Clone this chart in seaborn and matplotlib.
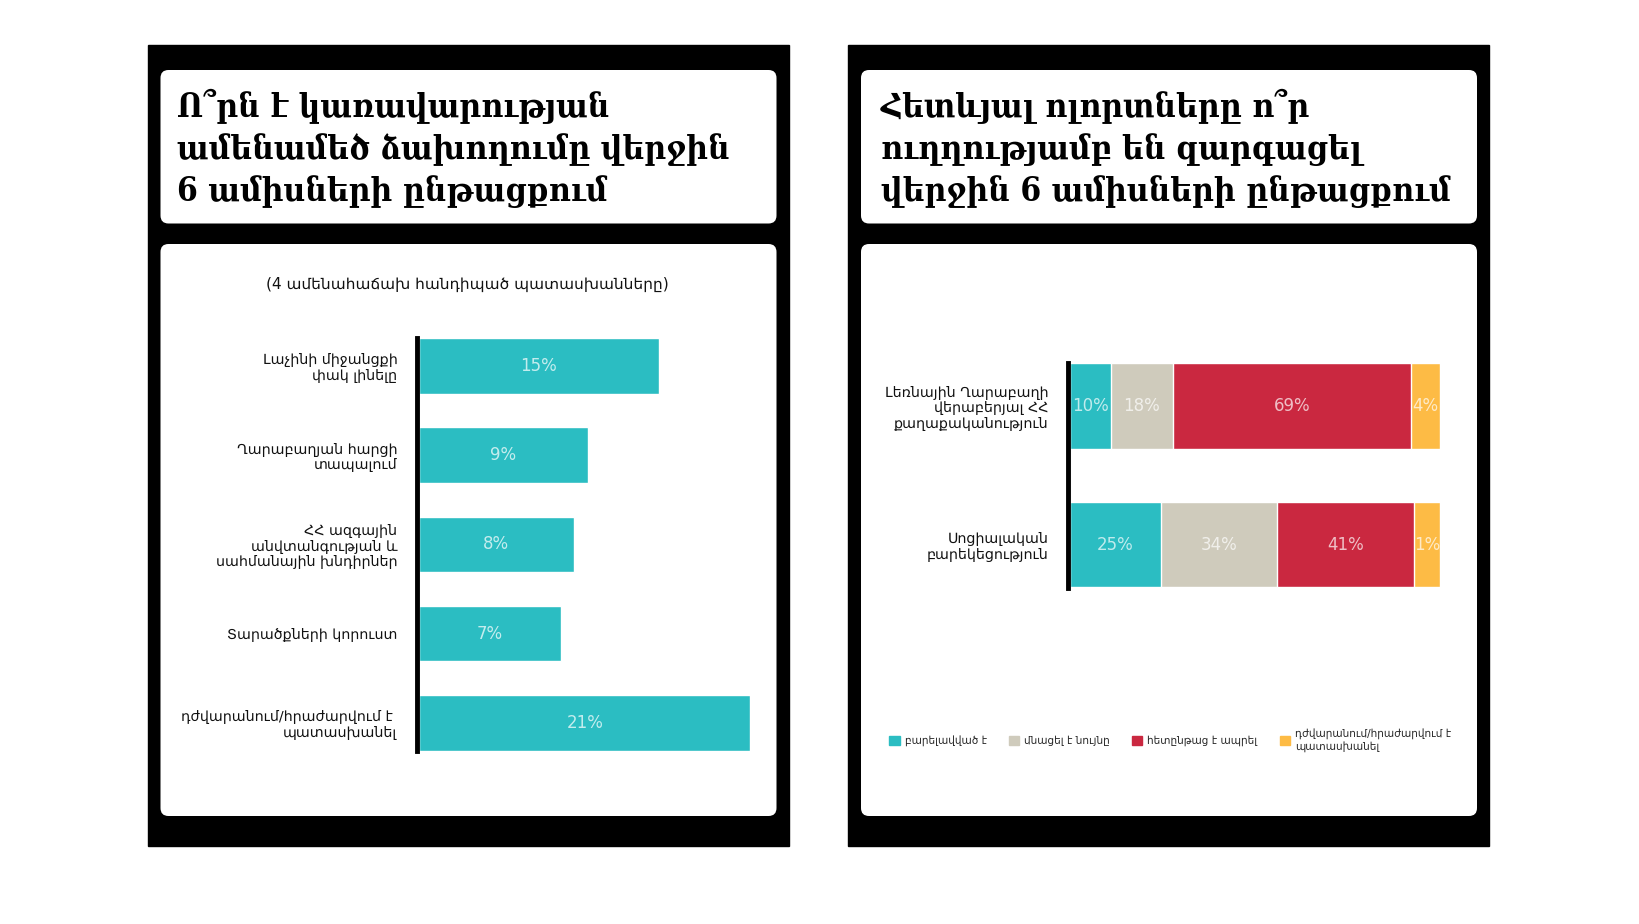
import matplotlib
matplotlib.use("Agg")
import matplotlib.pyplot as plt
from matplotlib.patches import Rectangle, FancyBboxPatch, Patch
import numpy as np
import seaborn as sns

# left panel: most frequent answers
left_title = "Ո՞րն է կառավարության\nամենամեծ ձախողումը վերջին\n6 ամիսների ընթացքում"
left_subtitle = "(4 ամենահաճախ հանդիպած պատասխանները)"
left_categories = [
    "Լաչինի միջանցքի\nփակ լինելը",
    "Ղարաբաղյան հարցի\nտապալում",
    "ՀՀ ազգային\nանվտանգության և\nսահմանային խնդիրներ",
    "Տարածքների կորուստ",
    "դժվարանում/հրաժարվում է \nպատասխանել",
]
left_values = [15.2, 10.7, 9.8, 9.0, 21.0]
left_labels = ["15%", "9%", "8%", "7%", "21%"]

# right panel: stacked shares
right_title = "Հետևյալ ոլորտները ո՞ր\nուղղությամբ են զարգացել\nվերջին 6 ամիսների ընթացքում"
right_categories = [
    "Լեռնային Ղարաբաղի\nվերաբերյալ ՀՀ\nքաղաքականություն",
    "Սոցիալական\nբարեկեցություն",
]
series_names = [
    "բարելավված է",
    "մնացել է նույնը",
    "հետընթաց է ապրել",
    "դժվարանում/հրաժարվում է\nպատասխանել",
]
improved = [11.0, 24.5]
same = [16.9, 31.3]
worse = [64.2, 37.2]
no_answer = [7.9, 7.0]
improved_labels = ["10%", "25%"]
same_labels = ["18%", "34%"]
worse_labels = ["69%", "41%"]
no_answer_labels = ["4%", "1%"]

TEAL = "#2bbdc2"
BEIGE = "#cfcbbc"
RED = "#ca2840"
YELLOW = "#fdbb45"
series_colors = [TEAL, BEIGE, RED, YELLOW]

W, H = 1640, 924

sns.set_theme(style="white")
plt.rcParams["font.family"] = ["DejaVu Sans"]

fig = plt.figure(figsize=(W / 100, H / 100), dpi=100)
fig.patch.set_facecolor("white")


def px_axes(x0, y0, x1, y1, **kw):
    return fig.add_axes([x0 / W, 1 - y1 / H, (x1 - x0) / W, (y1 - y0) / H], **kw)


# background: black frames and white rounded cards
bg = px_axes(0, 0, W, H, zorder=-5)
bg.set_xlim(0, W)
bg.set_ylim(H, 0)
bg.axis("off")
for px in (148, 848.5):
    bg.add_patch(Rectangle((px, 45), 641, 800.5, color="black"))
    bg.add_patch(FancyBboxPatch((px + 12.5, 70), 616, 153.5,
                                boxstyle="round,pad=0,rounding_size=8",
                                fc="white", ec="none"))
    bg.add_patch(FancyBboxPatch((px + 12.5, 244), 616, 572,
                                boxstyle="round,pad=0,rounding_size=8",
                                fc="white", ec="none"))

title_kw = dict(fontsize=24, fontweight="bold", family="DejaVu Serif",
                fontstretch="condensed", va="center", ha="left",
                linespacing=1.35, color="black")
bg.text(177.5, 148.5, left_title, **title_kw)
bg.text(881, 148.5, right_title, **title_kw)
bg.text(467.5, 284, left_subtitle, ha="center", va="center", fontsize=11.1, color="#111111")

# ---- left bar chart
ax1 = px_axes(419, 338.2, 750.5, 750.5)
sns.barplot(x=left_values, y=left_categories, color=TEAL, width=0.62,
            saturation=1, orient="h", ax=ax1)
ax1.set_xlim(0, max(left_values))
ax1.set_ylim(len(left_values) - 1 + 0.31, -0.31)
for i, (v, lab) in enumerate(zip(left_values, left_labels)):
    ax1.text(v / 2, i, lab, ha="center", va="center", color="white",
             alpha=0.72, fontsize=12)

# ---- right stacked chart (layered cumulative bars)
ax2 = px_axes(1069.8, 363.2, 1440.4, 587.7)
series = [improved, same, worse, no_answer]
series_labels = [improved_labels, same_labels, worse_labels, no_answer_labels]
cum = np.cumsum(np.array(series), axis=0)
for k in range(len(series) - 1, -1, -1):
    sns.barplot(x=cum[k], y=right_categories, color=series_colors[k],
                width=0.617, saturation=1, orient="h", ax=ax2)
ax2.set_xlim(0, cum[-1].max())
ax2.set_ylim(len(right_categories) - 1 + 0.31, -0.31)
for k in range(len(series)):
    for i in range(len(right_categories)):
        mid = cum[k][i] - series[k][i] / 2
        ax2.text(mid, i, series_labels[k][i], ha="center", va="center",
                 color="white", alpha=0.7, fontsize=12)

for ax in (ax1, ax2):
    ax.set_xlabel("")
    ax.set_ylabel("")
    ax.set_xticks([])
    ax.set_facecolor("none")
    for s in ("top", "right", "bottom"):
        ax.spines[s].set_visible(False)
    ax.spines["left"].set_linewidth(3.5)
    ax.spines["left"].set_color("black")
    ax.spines["left"].set_position(("outward", 1.5))
    ax.tick_params(axis="y", length=0, pad=14, labelsize=10.3, labelcolor="#111111")
    for t in ax.get_yticklabels():
        t.set_linespacing(1.12)

handles = [Patch(color=c) for c in series_colors]
fig.legend(handles, series_names, loc="center left",
           bbox_to_anchor=(885 / W, 1 - 740 / H), ncol=4, frameon=False,
           fontsize=7.6, handlelength=1.0, handleheight=1.0, handletextpad=0.45,
           columnspacing=2.1, borderaxespad=0)

fig.savefig("out.png", dpi=100, facecolor="white")
